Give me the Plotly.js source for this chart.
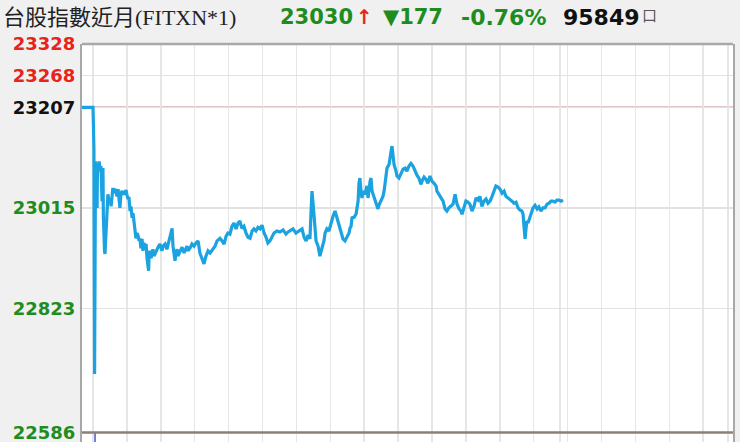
<!DOCTYPE html>
<html>
<head>
<meta charset="utf-8">
<script src="https://cdn.plot.ly/plotly-3.0.1.min.js"></script>
<style>html,body{margin:0;padding:0;background:#f0f0f0;}#chart{width:740px;height:442px;}</style>
</head>
<body>
<div id="chart"></div>
<script>
// minutes from session open, and traded price
const times = [-4.9,0,0.2,0.4,0.7,1.1,1.3,1.5,1.8,2.0,2.2,2.7,3.1,3.5,4.0,4.4,4.6,5.1,5.3,5.8,6.2,6.6,7.1,7.5,8.0,8.4,8.8,9.3,9.7,10.2,10.6,11.1,11.9,12.4,12.8,13.7,14.6,15.0,15.5,15.9,16.4,16.8,17.3,17.7,18.6,19.0,19.5,19.9,20.4,20.8,21.2,21.7,22.1,22.6,23.0,23.5,23.9,24.3,24.6,24.8,25.2,25.7,26.1,26.5,27.0,27.9,28.8,29.6,30.5,31.0,31.9,32.7,33.2,34.1,35.0,35.4,36.3,36.7,37.2,37.6,38.5,39.4,40.3,41.2,41.6,42.0,42.9,43.8,44.7,45.6,46.5,47.3,48.2,49.1,50.0,50.9,51.8,53.1,54.0,54.9,56.2,57.1,58.0,58.9,59.7,60.6,61.5,62.4,63.3,64.2,65.0,65.9,66.8,67.7,68.6,69.5,70.4,71.2,72.1,73.0,73.9,74.8,75.7,76.6,77.4,78.3,79.2,80.1,81.4,82.7,84.1,85.4,86.3,87.2,88.5,89.8,91.2,92.5,93.4,94.3,95.1,96.0,96.5,96.9,97.3,97.8,98.7,99.6,100.0,100.4,101.3,102.2,102.7,103.5,104.4,105.3,106.2,107.1,108.0,108.8,109.7,110.6,111.5,112.4,113.3,113.7,114.2,114.6,115.5,116.4,117.3,117.7,118.1,118.6,119.0,119.5,120.4,121.2,121.7,122.6,123.0,123.5,124.3,125.2,125.7,126.1,126.5,127.4,128.3,128.8,129.6,130.1,131.0,131.4,131.9,132.3,132.7,133.2,134.1,134.5,135.4,136.3,137.2,138.1,138.9,139.8,140.7,141.6,142.5,143.4,144.2,145.1,145.6,146.5,147.3,148.2,149.1,150.0,150.9,151.8,152.2,153.1,154.0,154.9,155.8,156.6,157.5,158.4,159.3,160.2,161.1,162.0,162.8,163.3,164.2,165.0,165.9,166.8,167.7,168.6,169.5,170.4,171.2,172.1,173.0,173.9,174.8,175.7,176.5,177.4,178.3,179.2,180.1,181.0,181.9,182.7,183.6,184.5,185.4,186.3,187.2,188.1,188.9,189.8,190.3,190.7,191.2,191.6,192.0,192.5,193.4,194.3,194.7,195.6,196.5,197.3,198.2,199.1,200.0,200.9,201.8,202.7,203.5,204.4,205.3,206.2,207.1,208.0];
const prices = [23207,23207,23171,23129,22698,23104,23076,23095,23015,23098,23085,23104,23089,23095,23028,23091,22996,22933,22927,22971,23018,23041,23028,23034,23018,23047,23053,23043,23051,23047,23037,23051,23015,23043,23047,23041,23049,23041,23032,23036,23009,23018,22996,23005,22971,22957,22967,22963,22952,22957,22938,22956,22933,22948,22942,22946,22919,22904,22895,22923,22933,22919,22929,22936,22923,22933,22940,22946,22933,22942,22946,22936,22946,22959,22976,22942,22914,22929,22936,22923,22933,22940,22929,22936,22942,22933,22938,22946,22942,22948,22952,22929,22917,22908,22923,22933,22929,22938,22942,22952,22957,22952,22946,22961,22967,22965,22980,22986,22975,22986,22990,22976,22980,22967,22959,22957,22971,22975,22971,22978,22975,22982,22967,22959,22948,22952,22959,22967,22971,22969,22973,22965,22969,22971,22975,22967,22971,22975,22959,22952,22963,22956,23009,23047,23028,23003,22952,22942,22929,22923,22938,22952,22967,22975,22971,22986,22999,23009,22994,22980,22971,22956,22952,22961,22967,22976,22980,22996,22997,23003,23028,23062,23072,23047,23034,23047,23041,23057,23034,23066,23072,23047,23037,23028,23018,23013,23020,23028,23037,23047,23081,23091,23098,23114,23123,23133,23108,23098,23085,23076,23072,23081,23089,23091,23085,23095,23100,23095,23085,23077,23072,23060,23066,23074,23070,23062,23076,23066,23062,23057,23047,23041,23034,23028,23013,23009,23015,23018,23022,23041,23022,23013,23009,23003,23018,23028,23026,23022,23009,23018,23034,23030,23037,23018,23028,23032,23024,23028,23036,23047,23057,23055,23051,23043,23047,23037,23034,23032,23028,23024,23026,23015,23011,23009,23003,22980,22956,22975,22990,22986,22999,23009,23015,23020,23013,23017,23009,23015,23015,23022,23024,23028,23028,23026,23030,23030,23028,23030];

const yTicks = [23328, 23268, 23207, 23015, 22823, 22586];
const yTickColors = ['#e8231b', '#e8231b', '#111111', '#1e8c1e', '#1e8c1e', '#1e8c1e'];
const gridTimes = [0,15,30,45,60,75,90,105,120,135,150,165,180,195,206.6,210,225,240,255,270,281];
const prevClose = 23207;
const floorLine = 22586;
const volTimes = [0.9];
const volTop = [22586];

const titleText = '台股指數近月(FITXN*1)';
const lastPrice = '23030';
const change = '177';
const changePct = '-0.76%';
const volume = '95849';

const ticktext = yTicks.map((v, i) => `<span style="color:${yTickColors[i]}">${v}</span>`);

const traces = [
  {x: times, y: prices, type: 'scatter', mode: 'lines',
   line: {color: '#1aa3e0', width: 3.2}, hoverinfo: 'skip'},
  {x: [volTimes[0], volTimes[0]], y: [22560, volTop[0]], type: 'scatter', mode: 'lines',
   line: {color: '#4a56c8', width: 1.5}, hoverinfo: 'skip'}
];

const hy = 1 + 27/398;
const numFont = 'Verdana, "DejaVu Sans", sans-serif';
const layout = {
  width: 740, height: 442,
  margin: {l: 82, r: 7, t: 44, b: 0, pad: 0},
  paper_bgcolor: '#f0f0f0', plot_bgcolor: '#ffffff',
  showlegend: false, hovermode: false,
  xaxis: {range: [-4.87, 283.2], tickvals: gridTimes, showticklabels: false, ticks: '',
          showgrid: true, gridcolor: '#e6e6e6', gridwidth: 1.5, zeroline: false, showline: false},
  yaxis: {range: [22568, 23328], tickvals: yTicks, ticktext: ticktext, ticks: '',
          tickfont: {family: numFont, size: 18, weight: 'bold', color: '#111'},
          ticklabelstandoff: 1, ticklabeloverflow: 'allow',
          showgrid: true, gridcolor: '#e2e2e2', gridwidth: 1.5, zeroline: false,
          showline: true, mirror: true, linecolor: '#a8a8a8', linewidth: 2},
  shapes: [
    {type: 'line', xref: 'paper', x0: 0, x1: 1, yref: 'y', y0: prevClose, y1: prevClose,
     line: {color: '#c48c8c', width: 1.5}, layer: 'between'},
    {type: 'line', xref: 'paper', x0: 0, x1: 1, yref: 'y', y0: floorLine, y1: floorLine,
     line: {color: '#8b7f77', width: 2.5}},
    {type: 'line', xref: 'paper', x0: 0, x1: 1, yref: 'paper', y0: 1, y1: 1,
     line: {color: '#a8a8a8', width: 2.5}}
  ],
  annotations: [
    {xref: 'paper', yref: 'paper', x: -81/651, y: hy, xanchor: 'left', yanchor: 'middle',
     text: titleText, showarrow: false,
     font: {family: '"Liberation Serif", "Noto Sans CJK TC", serif', size: 22, color: '#222'}},
    {xref: 'paper', yref: 'paper', x: 196/651, y: hy, xanchor: 'left', yanchor: 'middle',
     text: `<b>${lastPrice}</b>`, showarrow: false,
     font: {family: numFont, size: 21, color: '#1e8c1e'}},
    {xref: 'paper', yref: 'paper', x: 272/651, y: hy, xanchor: 'left', yanchor: 'middle',
     text: '<b>↑</b>', showarrow: false,
     font: {family: '"DejaVu Sans", sans-serif', size: 20, color: '#e8231b'}},
    {xref: 'paper', yref: 'paper', x: 299/651, y: hy, xanchor: 'left', yanchor: 'middle',
     text: `<b>▼${change}</b>`, showarrow: false,
     font: {family: numFont, size: 21, color: '#1e8c1e'}},
    {xref: 'paper', yref: 'paper', x: 377/651, y: hy, xanchor: 'left', yanchor: 'middle',
     text: `<b>${changePct}</b>`, showarrow: false,
     font: {family: numFont, size: 22, color: '#1e8c1e'}},
    {xref: 'paper', yref: 'paper', x: 479/651, y: hy, xanchor: 'left', yanchor: 'middle',
     text: `<b>${volume}</b>`, showarrow: false,
     font: {family: numFont, size: 22, color: '#111'}},
    {xref: 'paper', yref: 'paper', x: 558/651, y: 1 + 29/398, xanchor: 'left', yanchor: 'middle',
     text: '口', showarrow: false,
     font: {family: '"Noto Sans CJK TC", sans-serif', size: 15, color: '#555'}}
  ]
};

Plotly.newPlot('chart', traces, layout, {staticPlot: true, displayModeBar: false});
</script>
</body>
</html>
